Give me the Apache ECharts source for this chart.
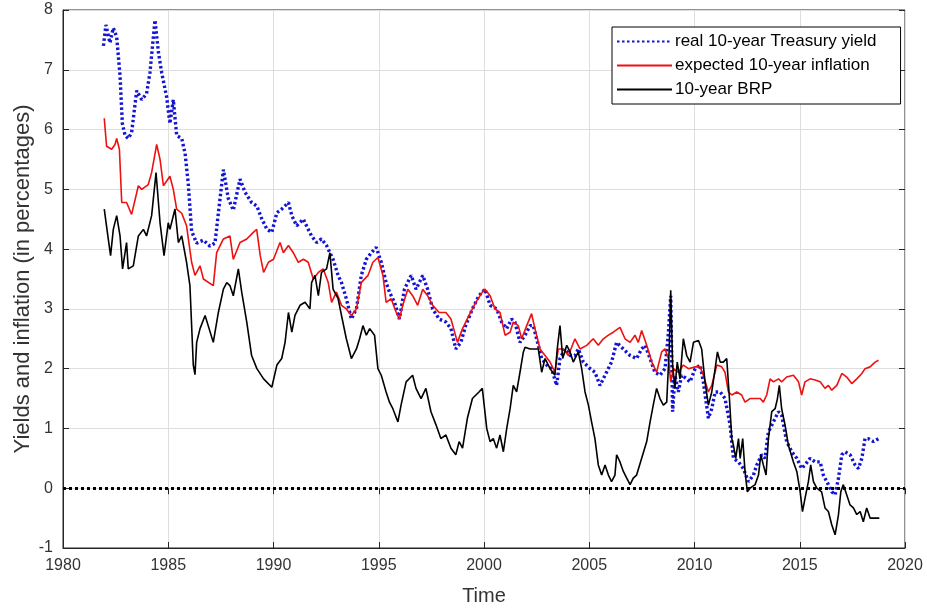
<!DOCTYPE html>
<html>
<head>
<meta charset="utf-8">
<script src="https://cdn.jsdelivr.net/npm/echarts@6/dist/echarts.min.js"></script>
<style>
html,body{margin:0;padding:0;background:#fff;}
#main{width:927px;height:611px;}
</style>
</head>
<body>
<div id="main"></div>
<script>
// 坐标轴刻度
var xTicks = [1980, 1985, 1990, 1995, 2000, 2005, 2010, 2015, 2020];
var yTicks = [-1, 0, 1, 2, 3, 4, 5, 6, 7, 8];
var seriesNames = ['real 10-year Treasury yield', 'expected 10-year inflation', '10-year BRP'];

// real 10-year Treasury yield
var realYears = [1981.92,1982.04,1982.23,1982.39,1982.55,1982.71,1982.82,1982.95,1983.10,1983.26,1983.50,1983.74,1983.97,1984.13,1984.37,1984.53,1984.69,1984.92,1985.08,1985.24,1985.40,1985.64,1985.80,1985.95,1986.11,1986.35,1986.67,1986.98,1987.22,1987.38,1987.62,1987.85,1988.09,1988.41,1988.65,1988.96,
    1989.21,1989.45,1989.69,1989.92,1990.16,1990.39,1990.71,1990.87,1991.10,1991.42,1991.65,1991.81,1992.05,1992.28,1992.52,1992.83,1993.07,1993.23,1993.46,1993.70,1993.94,1994.17,1994.41,1994.65,1994.88,1995.12,1995.35,1995.51,1995.75,1995.98,1996.22,1996.54,1996.77,1997.09,1997.32,1997.56,1997.87,1998.19,1998.43,1998.66,1998.90,1999.13,1999.45,1999.76,
    2000.05,2000.29,2000.60,2000.84,2001.08,2001.31,2001.47,2001.71,2001.95,2002.19,2002.34,2002.50,2002.74,2002.98,2003.21,2003.45,2003.61,2003.85,2004.09,2004.32,2004.48,2004.72,2005.04,2005.27,2005.51,2005.75,2006.06,2006.30,2006.62,2006.94,2007.25,2007.49,2007.65,2007.89,2008.12,2008.36,2008.60,2008.76,2008.87,2008.96,2009.07,2009.23,2009.39,2009.63,
    2009.79,2010.03,2010.27,2010.42,2010.66,2010.82,2010.98,2011.22,2011.45,2011.69,2011.85,2012.09,2012.32,2012.56,2012.80,2012.96,2013.19,2013.35,2013.51,2013.75,2013.99,2014.14,2014.38,2014.62,2014.86,2015.09,2015.25,2015.49,2015.73,2015.97,2016.12,2016.36,2016.52,2016.68,2016.84,2017.00,2017.15,2017.39,2017.63,2017.79,2017.95,2018.10,2018.26,2018.50,2018.74];
var realValues = [7.4,7.75,7.45,7.7,7.55,6.9,6.1,5.9,5.85,5.95,6.65,6.5,6.6,6.95,7.83,7.3,6.95,6.55,6.1,6.5,5.9,5.85,5.6,5.1,4.3,4.1,4.15,4.05,4.1,4.6,5.33,4.85,4.65,5.17,4.95,4.78,
    4.72,4.5,4.33,4.28,4.61,4.67,4.78,4.56,4.39,4.5,4.33,4.22,4.11,4.17,4.06,3.83,3.56,3.44,3.17,2.83,3.0,3.56,3.83,3.94,4.03,3.78,3.44,3.28,3.11,2.83,3.33,3.56,3.33,3.56,3.33,3.0,2.83,2.78,2.67,2.33,2.44,2.72,3.0,3.22,
    3.33,3.06,3.0,2.78,2.67,2.83,2.78,2.44,2.56,2.72,2.72,2.5,2.17,2.06,2.0,1.72,2.17,2.33,2.22,2.22,2.33,2.11,2.0,1.94,1.72,1.89,2.11,2.44,2.33,2.22,2.17,2.33,2.39,2.17,1.94,1.89,2.0,2.6,3.22,1.28,1.89,1.61,1.89,1.83,
    1.78,2.0,2.06,1.78,1.17,1.33,1.61,1.61,1.5,1.06,0.5,0.44,0.33,0.11,0.22,0.39,0.56,0.5,0.94,1.11,1.28,1.22,0.78,0.61,0.5,0.33,0.39,0.5,0.44,0.44,0.22,0.06,-0.06,-0.11,0.17,0.56,0.61,0.56,0.39,0.33,0.5,0.83,0.83,0.78,0.83];

// expected 10-year inflation
var inflYears = [1981.96,1982.07,1982.31,1982.47,1982.55,1982.68,1982.79,1983.02,1983.26,1983.58,1983.74,1984.05,1984.21,1984.45,1984.61,1984.77,1985.08,1985.24,1985.40,1985.64,1985.87,1986.11,1986.27,1986.51,1986.67,1987.14,1987.30,1987.62,1987.93,1988.09,1988.41,1988.73,1989.04,1989.20,
    1989.37,1989.53,1989.76,1990.00,1990.31,1990.47,1990.71,1990.94,1991.18,1991.42,1991.65,1991.89,1992.13,1992.36,1992.60,1992.76,1992.99,1993.23,1993.46,1993.70,1993.94,1994.17,1994.49,1994.72,1994.96,1995.20,1995.35,1995.59,1995.83,1995.98,1996.14,1996.38,1996.61,1996.85,1997.09,1997.32,1997.56,1997.87,1998.19,1998.43,1998.74,1998.98,1999.29,1999.61,1999.92,
    2000.05,2000.29,2000.52,2000.76,2001.00,2001.24,2001.39,2001.63,2001.79,2002.03,2002.26,2002.42,2002.66,2002.90,2003.14,2003.37,2003.53,2003.77,2004.01,2004.32,2004.56,2004.88,2005.19,2005.43,2005.67,2005.91,2006.14,2006.46,2006.70,2006.94,2007.17,2007.33,2007.49,2007.73,2007.97,2008.20,2008.44,2008.60,2008.76,2008.87,2009.00,2009.23,2009.47,2009.71,
    2010.03,2010.27,2010.42,2010.66,2010.82,2011.06,2011.29,2011.45,2011.61,2011.77,2012.01,2012.24,2012.40,2012.64,2012.88,2013.12,2013.27,2013.43,2013.59,2013.75,2013.99,2014.14,2014.38,2014.70,2014.94,2015.09,2015.25,2015.49,2015.73,2015.97,2016.20,2016.36,2016.52,2016.76,2017.00,2017.23,2017.47,2017.71,2017.95,2018.10,2018.34,2018.58,2018.74];
var inflValues = [6.19,5.72,5.67,5.75,5.85,5.67,4.78,4.78,4.58,5.06,5.0,5.08,5.28,5.75,5.5,5.06,5.22,5.0,4.67,4.6,4.39,3.78,3.56,3.72,3.5,3.39,3.94,4.17,4.22,3.83,4.11,4.17,4.28,4.33,
    3.89,3.61,3.78,3.83,4.11,3.94,4.06,3.94,3.78,3.83,3.78,3.5,3.61,3.67,3.44,3.11,3.28,3.06,3.0,2.89,3.0,3.44,3.56,3.78,3.86,3.56,3.11,3.17,2.94,2.83,3.06,3.33,3.22,3.06,3.33,3.22,3.06,2.94,2.94,2.83,2.44,2.67,2.89,3.11,3.28,
    3.33,3.22,3.0,2.94,2.56,2.61,2.78,2.72,2.5,2.72,2.92,2.67,2.33,2.22,2.11,1.94,2.33,2.33,2.22,2.5,2.33,2.39,2.5,2.39,2.5,2.56,2.61,2.69,2.5,2.44,2.56,2.44,2.64,2.39,2.11,1.94,2.28,2.33,2.17,1.78,2.0,1.94,2.06,2.0,
    2.03,2.03,1.89,1.61,1.72,2.06,2.03,1.94,1.61,1.56,1.61,1.56,1.44,1.5,1.5,1.5,1.44,1.56,1.83,1.78,1.83,1.78,1.86,1.89,1.78,1.56,1.78,1.83,1.81,1.78,1.67,1.72,1.64,1.72,1.92,1.86,1.75,1.83,1.92,2.0,2.03,2.11,2.14];

// 10-year BRP
var brpYears = [1981.96,1982.15,1982.26,1982.39,1982.55,1982.71,1982.83,1983.02,1983.10,1983.34,1983.58,1983.82,1983.97,1984.21,1984.42,1984.61,1984.80,1985.00,1985.08,1985.32,1985.48,1985.64,1985.87,1986.03,1986.19,1986.27,1986.35,1986.51,1986.75,1987.14,1987.38,1987.62,1987.78,1987.93,1988.09,1988.33,1988.49,1988.73,1988.96,
    1989.21,1989.53,1989.92,1990.16,1990.39,1990.55,1990.71,1990.87,1991.02,1991.26,1991.50,1991.73,1991.81,1991.97,1992.13,1992.28,1992.52,1992.68,1992.83,1993.07,1993.23,1993.46,1993.70,1993.94,1994.09,1994.25,1994.41,1994.57,1994.80,1994.96,1995.12,1995.35,1995.51,1995.67,1995.91,1996.06,1996.30,1996.61,1996.77,1997.01,1997.24,1997.48,1997.72,1997.95,1998.19,1998.43,1998.66,1998.82,1998.98,1999.21,1999.45,1999.76,1999.92,
    2000.13,2000.29,2000.44,2000.60,2000.76,2000.92,2001.08,2001.24,2001.39,2001.55,2001.71,2001.87,2001.95,2002.19,2002.42,2002.58,2002.74,2002.90,2003.14,2003.37,2003.48,2003.61,2003.74,2003.93,2004.09,2004.24,2004.48,2004.64,2004.80,2004.96,2005.11,2005.27,2005.43,2005.59,2005.75,2005.91,2006.06,2006.22,2006.30,2006.46,2006.62,2006.78,2006.94,2007.09,2007.25,2007.49,2007.73,2007.89,2008.04,2008.20,2008.36,2008.52,2008.68,2008.80,2008.87,2008.96,2009.07,2009.18,2009.31,2009.47,2009.63,
    2009.79,2009.95,2010.19,2010.34,2010.50,2010.66,2010.82,2010.98,2011.09,2011.22,2011.37,2011.53,2011.66,2011.77,2011.85,2011.96,2012.09,2012.17,2012.29,2012.40,2012.51,2012.64,2012.88,2013.04,2013.15,2013.27,2013.40,2013.51,2013.67,2013.83,2013.94,2014.03,2014.14,2014.30,2014.46,2014.70,2014.86,2015.02,2015.13,2015.25,2015.41,2015.52,2015.65,2015.81,2016.04,2016.20,2016.36,2016.52,2016.68,2016.84,2016.95,2017.07,2017.23,2017.39,2017.55,2017.71,2017.87,2018.02,2018.18,2018.34,2018.58,2018.78];
var brpValues = [4.67,4.17,3.89,4.33,4.56,4.22,3.67,4.11,3.67,3.72,4.22,4.33,4.22,4.56,5.28,4.44,3.89,4.44,4.33,4.67,4.11,4.22,3.78,3.39,2.06,1.9,2.44,2.67,2.89,2.44,2.94,3.33,3.44,3.39,3.22,3.67,3.28,2.78,2.22,
    2.0,1.83,1.69,2.06,2.17,2.44,2.94,2.61,2.89,3.06,3.11,3.0,3.44,3.56,3.22,3.61,3.67,3.94,3.33,3.17,2.89,2.5,2.17,2.33,2.5,2.72,2.56,2.67,2.56,2.0,1.89,1.61,1.44,1.33,1.11,1.39,1.78,1.89,1.67,1.5,1.67,1.28,1.06,0.83,0.89,0.67,0.56,0.78,0.67,1.17,1.5,1.61,1.67,
    1.0,0.78,0.83,0.67,0.89,0.61,1.0,1.33,1.72,1.61,1.94,2.28,2.36,2.33,2.33,2.33,1.94,2.17,2.0,1.89,2.33,2.72,2.17,2.39,2.28,2.11,2.28,2.0,1.61,1.39,1.11,0.83,0.39,0.22,0.39,0.22,0.11,0.22,0.56,0.44,0.28,0.17,0.06,0.17,0.22,0.5,0.78,1.11,1.39,1.67,1.5,1.39,1.44,2.33,3.31,2.06,1.67,2.11,1.83,2.5,2.22,
    2.11,2.44,2.47,2.33,1.78,1.39,1.61,2.0,2.28,2.11,2.11,2.17,1.5,0.83,0.72,0.5,0.83,0.5,0.83,0.28,-0.06,0.0,0.06,0.22,0.56,0.39,0.22,0.83,1.28,1.33,1.5,1.72,1.33,1.06,0.72,0.44,0.28,-0.06,-0.39,-0.17,0.11,0.39,0.11,0.0,-0.06,-0.33,-0.39,-0.61,-0.78,-0.44,-0.06,0.06,-0.11,-0.28,-0.33,-0.44,-0.39,-0.56,-0.33,-0.5,-0.5,-0.5];

// 零线
var zeroLevel = 0;

var axisColor = '#262626',
    gridColor = '#dedede',
    fontName = 'Liberation Sans, Arial, sans-serif',
    labelFont = {fontFamily: fontName, fontSize: 16, color: '#333'};

function pairs(xs, ys) {
    var res = [];
    for (var i = 0; i < xs.length; i++) {
        res.push([xs[i], ys[i]]);
    }
    return res;
}

var chart = echarts.init(document.getElementById('main'));
var option = {
    animation: false,
    backgroundColor: '#fff',
    grid: {
        left: 63, right: 22, top: 10, bottom: 61,
        show: true, borderColor: axisColor, borderWidth: 1
    },
    legend: {
        data: seriesNames,
        orient: 'vertical',
        left: 612,
        top: 27,
        itemWidth: 55,
        itemHeight: 14,
        itemGap: 7,
        padding: [6, 24, 6, 4],
        borderColor: '#000',
        borderWidth: 1,
        backgroundColor: '#fff',
        // 图例只画线，不画圆点
        itemStyle: {color: 'rgba(0,0,0,0)', borderColor: 'rgba(0,0,0,0)', borderWidth: 0, opacity: 0},
        textStyle: {fontFamily: fontName, fontSize: 17, color: '#000', padding: [0, 0, 0, -2]}
    },
    xAxis: [{
        type: 'value',
        min: xTicks[0], max: xTicks[xTicks.length - 1], interval: 5,
        name: 'Time',
        nameLocation: 'middle',
        nameGap: 38,
        nameMoveOverlap: false,
        nameTextStyle: {fontFamily: fontName, fontSize: 20, color: '#333'},
        axisLine: {onZero: false, lineStyle: {color: axisColor}},
        axisTick: {inside: true, length: 6, lineStyle: {color: axisColor}},
        axisLabel: Object.assign({margin: 10, formatter: function (v) { return String(v); }}, labelFont),
        splitLine: {show: true, lineStyle: {color: gridColor}}
    }, {
        type: 'value', position: 'top',
        min: xTicks[0], max: xTicks[xTicks.length - 1], interval: 5,
        axisLine: {show: false},
        axisTick: {inside: true, length: 6, lineStyle: {color: axisColor}},
        axisLabel: {show: false},
        splitLine: {show: false}
    }],
    yAxis: [{
        type: 'value',
        min: yTicks[0], max: yTicks[yTicks.length - 1], interval: 1,
        name: 'Yields and inflation (in percentages)',
        nameLocation: 'middle',
        nameGap: 29,
        nameMoveOverlap: false,
        nameTextStyle: {fontFamily: fontName, fontSize: 22, color: '#333'},
        axisLine: {show: true, lineStyle: {color: axisColor}},
        axisTick: {show: true, inside: true, length: 6, lineStyle: {color: axisColor}},
        axisLabel: Object.assign({margin: 10}, labelFont),
        splitLine: {show: true, lineStyle: {color: gridColor}}
    }, {
        type: 'value', position: 'right',
        min: yTicks[0], max: yTicks[yTicks.length - 1], interval: 1,
        axisLine: {show: false},
        axisTick: {show: true, inside: true, length: 6, lineStyle: {color: axisColor}},
        axisLabel: {show: false},
        splitLine: {show: false}
    }],
    series: [{
        name: seriesNames[0],
        type: 'line',
        showSymbol: false, symbol: 'none',
        data: pairs(realYears, realValues),
        z: 3,
        lineStyle: {color: '#1414d6', width: 3.4, type: [2.5, 2.5]},
        itemStyle: {color: '#1414d6'}
    }, {
        name: seriesNames[1],
        type: 'line',
        showSymbol: false, symbol: 'none',
        data: pairs(inflYears, inflValues),
        z: 4,
        lineStyle: {color: '#ee1111', width: 1.6},
        itemStyle: {color: '#ee1111'}
    }, {
        name: seriesNames[2],
        type: 'line',
        showSymbol: false, symbol: 'none',
        data: pairs(brpYears, brpValues),
        z: 5,
        lineStyle: {color: '#000', width: 1.6},
        itemStyle: {color: '#000'},
        markLine: {
            silent: true,
            symbol: 'none',
            label: {show: false},
            lineStyle: {color: '#000', width: 3, type: [3, 3]},
            data: [{yAxis: zeroLevel}]
        }
    }]
};
chart.setOption(option);
</script>
</body>
</html>
